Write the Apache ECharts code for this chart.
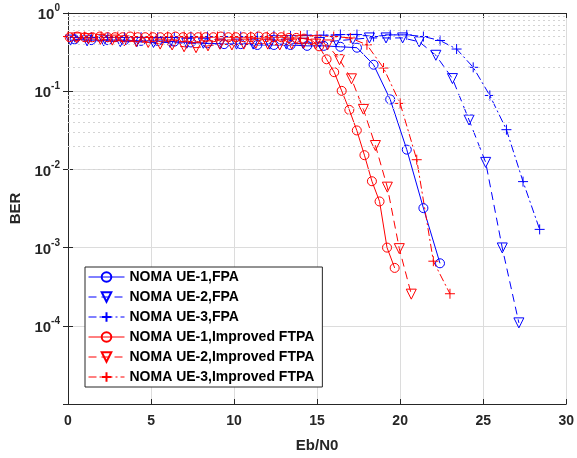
<!DOCTYPE html>
<html>
<head>
<meta charset="utf-8">
<script src="https://cdn.jsdelivr.net/npm/echarts@6.0.0/dist/echarts.min.js"></script>
<style>body{margin:0;background:#fff;}</style>
</head>
<body>
<div id="main" style="width:577px;height:458px;"></div>
<script>
// Eb/N0 values (dB)
var xUe1Fpa = [0.4,1.4,2.4,3.4,4.4,5.4,6.4,7.4,8.4,9.4,10.4,11.4,12.4,13.4,14.4,15.4,16.4,17.4,18.4,19.4,20.4,21.4,22.4];
var xUe2Fpa = [0.15,1.15,2.15,3.15,4.15,5.15,6.15,7.15,8.15,9.15,10.15,11.15,12.15,13.15,14.15,15.15,16.15,17.15,18.15,19.15,20.15,21.15,22.15,23.15,24.15,25.15,26.15,27.15];
var xUe3Fpa = [0.4,1.4,2.4,3.4,4.4,5.4,6.4,7.4,8.4,9.4,10.4,11.4,12.4,13.4,14.4,15.4,16.4,17.4,18.4,19.4,20.4,21.4,22.4,23.4,24.4,25.4,26.4,27.4,28.4];
var xUe1Ftpa = [0.10,0.56,1.01,1.47,1.92,2.38,2.83,3.29,3.74,4.20,4.65,5.11,5.56,6.02,6.47,6.93,7.38,7.84,8.29,8.75,9.20,9.66,10.11,10.57,11.02,11.48,11.93,12.39,12.84,13.30,13.75,14.21,14.66,15.12,15.57,16.03,16.48,16.94,17.39,17.85,18.30,18.76,19.21,19.67];
var xUe2Ftpa = [0.51,1.23,1.95,2.67,3.39,4.11,4.83,5.55,6.27,6.99,7.71,8.43,9.15,9.87,10.59,11.31,12.03,12.75,13.47,14.19,14.91,15.63,16.35,17.07,17.79,18.51,19.23,19.95,20.67];
var xUe3Ftpa = [0,1,2,3,4,5,6,7,8,9,10,11,12,13,14,15,16,17,18,19,20,21,22,23];

// BER values
var berUe1Fpa = [0.46,0.45,0.45,0.45,0.44,0.44,0.43,0.42,0.41,0.40,0.40,0.39,0.39,0.39,0.38,0.38,0.37,0.36,0.218,0.0785,0.0179,0.0032,0.00063];
var berUe2Fpa = [0.45,0.44,0.44,0.43,0.43,0.42,0.42,0.41,0.41,0.40,0.40,0.40,0.40,0.40,0.41,0.42,0.44,0.46,0.48,0.48,0.48,0.428,0.288,0.145,0.0428,0.0123,0.00099,0.000109];
var berUe3Fpa = [0.49,0.49,0.49,0.49,0.49,0.49,0.49,0.50,0.50,0.50,0.50,0.50,0.51,0.51,0.52,0.52,0.53,0.53,0.50,0.525,0.525,0.50,0.445,0.346,0.202,0.0882,0.0322,0.00698,0.00171];
var berUe1Ftpa = [0.49,0.50,0.49,0.49,0.50,0.49,0.49,0.49,0.50,0.49,0.49,0.49,0.49,0.49,0.50,0.49,0.49,0.49,0.49,0.49,0.50,0.49,0.49,0.49,0.49,0.50,0.49,0.49,0.49,0.48,0.48,0.47,0.45,0.375,0.256,0.175,0.101,0.0577,0.0315,0.0152,0.00706,0.00389,0.0010,0.00055];
var berUe2Ftpa = [0.48,0.47,0.46,0.45,0.44,0.43,0.42,0.40,0.39,0.37,0.36,0.38,0.40,0.39,0.40,0.41,0.40,0.39,0.40,0.41,0.40,0.39,0.253,0.144,0.0585,0.0202,0.00593,0.00097,0.000254];
var berUe3Ftpa = [0.50,0.50,0.50,0.50,0.50,0.50,0.50,0.50,0.50,0.50,0.50,0.50,0.50,0.51,0.51,0.51,0.50,0.48,0.392,0.198,0.0698,0.0133,0.00067,0.000257];

var names = ['NOMA UE-1,FPA','NOMA UE-2,FPA','NOMA UE-3,FPA','NOMA UE-1,Improved FTPA','NOMA UE-2,Improved FTPA','NOMA UE-3,Improved FTPA'];

var blue = '#0000ff';
var red = '#ff0000';
var axisColor = '#262626';
var font = 'Liberation Sans, Arial, sans-serif';
var plusPath = 'path://M5,0L5,10M0,5L10,5';

function pairs(xs, ys) {
	var out = [];
	for (var i = 0; i < xs.length; i++) out.push([xs[i], ys[i]]);
	return out;
}

// dotted minor grid lines 2..9 x 10^k
var minorLines = [];
for (var k = -5; k < 0; k++) {
	for (var m = 2; m <= 9; m++) {
		minorLines.push({yAxis: m * Math.pow(10, k)});
	}
}

function mkSeries(name, xs, ys, color, dash, symbol, size, rotate) {
	return {
		name: name,
		type: 'line',
		data: pairs(xs, ys),
		symbol: symbol,
		symbolSize: size,
		symbolRotate: rotate || 0,
		showAllSymbol: true,
		lineStyle: {color: color, width: 1, type: dash},
		itemStyle: {color: 'rgba(255,255,255,0)', borderColor: color, borderWidth: 1},
		emphasis: {disabled: true},
		animation: false,
		z: 3
	};
}

var series = [
	mkSeries(names[0], xUe1Fpa, berUe1Fpa, blue, 'solid', 'circle', 9),
	mkSeries(names[1], xUe2Fpa, berUe2Fpa, blue, [8, 5], 'triangle', 10, 180),
	mkSeries(names[2], xUe3Fpa, berUe3Fpa, blue, [8, 3, 2, 3], plusPath, 10),
	mkSeries(names[3], xUe1Ftpa, berUe1Ftpa, red, 'solid', 'circle', 9),
	mkSeries(names[4], xUe2Ftpa, berUe2Ftpa, red, [8, 5], 'triangle', 10, 180),
	mkSeries(names[5], xUe3Ftpa, berUe3Ftpa, red, [8, 3, 2, 3], plusPath, 10)
];
series[0].markLine = {
	silent: true,
	symbol: ['none', 'none'],
	label: {show: false},
	lineStyle: {color: '#d4d4d4', type: [2, 3], width: 1},
	emphasis: {disabled: true},
	animation: false,
	data: minorLines
};

var option = {
	backgroundColor: '#fff',
	animation: false,
	grid: {left: 68, right: 9, top: 13, bottom: 51},
	legend: {
		data: names,
		orient: 'vertical',
		left: 85,
		top: 267,
		itemWidth: 36,
		itemHeight: 12,
		itemGap: 6,
		padding: [3, 8, 3, 3],
		backgroundColor: '#fff',
		borderColor: axisColor,
		borderWidth: 1,
		borderRadius: 0,
		lineStyle: {width: 1},
		textStyle: {fontFamily: font, fontWeight: 'bold', fontSize: 14, color: '#000'}
	},
	xAxis: [{
		type: 'value',
		min: 0,
		max: 30,
		interval: 5,
		name: 'Eb/N0',
		nameLocation: 'middle',
		nameGap: 34,
		nameTextStyle: {fontFamily: font, fontWeight: 'bold', fontSize: 15, color: axisColor},
		axisLine: {lineStyle: {color: axisColor, width: 1}},
		axisTick: {inside: true, length: 5, lineStyle: {color: axisColor}},
		axisLabel: {margin: 10, fontFamily: font, fontWeight: 'bold', fontSize: 14, color: axisColor},
		splitLine: {show: true, lineStyle: {color: '#dcdcdc', width: 1}}
	}, {
		type: 'value',
		position: 'top',
		min: 0,
		max: 30,
		interval: 5,
		axisLine: {show: true, lineStyle: {color: axisColor, width: 1}},
		axisTick: {inside: true, length: 5, lineStyle: {color: axisColor}},
		axisLabel: {show: false},
		splitLine: {show: false}
	}],
	yAxis: [{
		type: 'log',
		logBase: 10,
		min: 0.00001,
		max: 1,
		name: 'BER',
		nameLocation: 'middle',
		nameGap: 41,
		nameTextStyle: {fontFamily: font, fontWeight: 'bold', fontSize: 15, color: axisColor},
		axisLine: {show: true, lineStyle: {color: axisColor, width: 1}},
		axisTick: {inside: true, length: 5, lineStyle: {color: axisColor}},
		axisLabel: {
			margin: 8,
			showMinLabel: false,
			formatter: function (v) {
				var e = Math.round(Math.log(v) / Math.LN10);
				return '{b|10}{s|' + e + '}';
			},
			rich: {
				b: {fontFamily: font, fontWeight: 'bold', fontSize: 15, color: axisColor, lineHeight: 19, verticalAlign: 'bottom'},
				s: {fontFamily: font, fontWeight: 'bold', fontSize: 10, color: axisColor, verticalAlign: 'top'}
			}
		},
		splitLine: {show: true, lineStyle: {color: '#dcdcdc', width: 1}}
	}, {
		type: 'log',
		logBase: 10,
		min: 0.00001,
		max: 1,
		position: 'right',
		axisLine: {show: true, lineStyle: {color: axisColor, width: 1}},
		axisTick: {inside: true, length: 5, lineStyle: {color: axisColor}},
		axisLabel: {show: false},
		splitLine: {show: false}
	}],
	series: series
};

var myChart = echarts.init(document.getElementById('main'));
myChart.setOption(option, true);
</script>
</body>
</html>
